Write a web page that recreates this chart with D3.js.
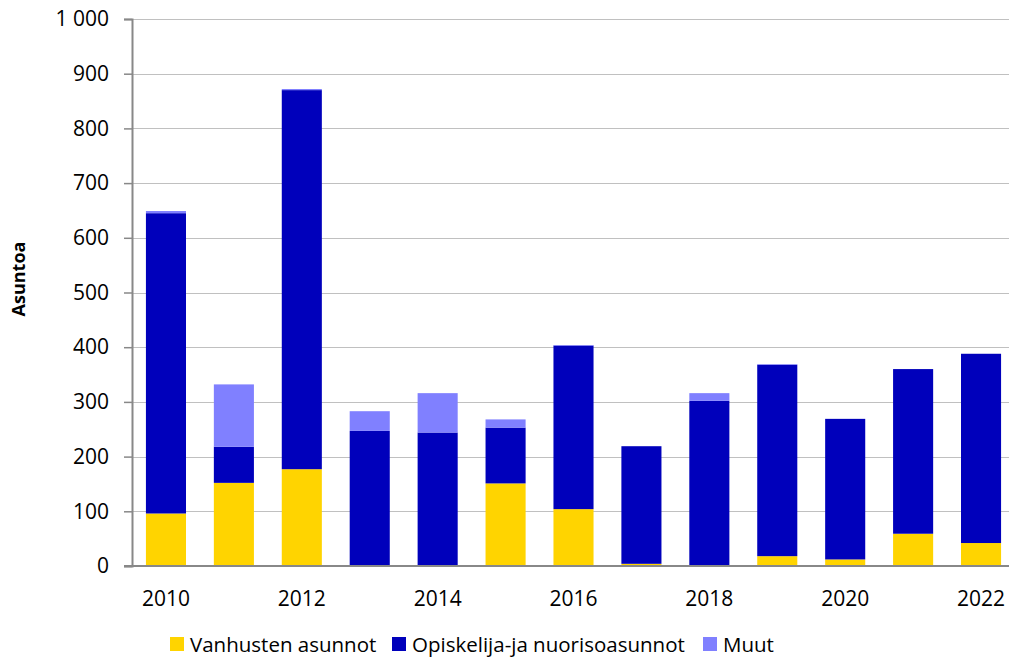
<!DOCTYPE html>
<html>
<head>
<meta charset="utf-8">
<script src="https://d3js.org/d3.v7.min.js"></script>
<style>
  body { margin: 0; background: #fff; }
  svg text { font-family: "Open Sans", "Noto Sans", sans-serif; fill: #000; }
</style>
</head>
<body>
<div id="chart"></div>
<script>
// data
var years = ["2010","2011","2012","2013","2014","2015","2016","2017","2018","2019","2020","2021","2022"];
var vanhusten = [96, 152, 177, 0, 0, 151, 104, 4, 1, 18, 12, 59, 42];
var opiskelija = [549, 66, 693, 247, 244, 102, 299, 215, 301, 350, 257, 301, 346];
var muut = [4, 114, 2, 36, 72, 15, 1, 0, 14, 1, 0, 0, 0];
var yTicks = [0, 100, 200, 300, 400, 500, 600, 700, 800, 900, 1000];
var xLabels = ["2010","2012","2014","2016","2018","2020","2022"];
var seriesNames = ["Vanhusten asunnot", "Opiskelija-ja nuorisoasunnot", "Muut"];
var colors = ["#FFD400", "#0000BB", "#8080FF"];

var W = 1009, H = 657;
var plotLeft = 132, plotTop = 19, plotBottom = 566, plotRight = 1015;

var svg = d3.select("#chart").append("svg")
  .attr("width", W).attr("height", H);

var x = d3.scaleBand().domain(years).range([plotLeft, plotRight]).paddingInner(0.41).paddingOuter(0.205);
var y = d3.scaleLinear().domain([0, 1000]).range([plotBottom, plotTop]);

// gridlines
svg.append("g").selectAll("line").data(yTicks.filter(function(d){ return d > 0; })).enter()
  .append("line")
    .attr("x1", plotLeft).attr("x2", W)
    .attr("y1", function(d){ return Math.round(y(d)) + 0.5; })
    .attr("y2", function(d){ return Math.round(y(d)) + 0.5; })
    .attr("stroke", "#c0c0c0").attr("stroke-width", 1.2);

// stacked bars
var table = years.map(function(yr, i){
  return { year: yr, a: vanhusten[i], b: opiskelija[i], c: muut[i] };
});
var stack = d3.stack().keys(["a","b","c"])(table);

svg.append("g").selectAll("g").data(stack).enter()
  .append("g").attr("fill", function(d, i){ return colors[i]; })
  .selectAll("rect").data(function(d){ return d; }).enter()
  .append("rect")
    .attr("x", function(d){ return x(d.data.year); })
    .attr("width", x.bandwidth())
    .attr("y", function(d){ return y(d[1]); })
    .attr("height", function(d){ return Math.max(0, y(d[0]) - y(d[1])); });

// y axis
var yAxis = svg.append("g")
  .attr("transform", "translate(" + plotLeft + ",0)")
  .call(d3.axisLeft(y).tickValues(yTicks).tickSize(8).tickPadding(15)
    .tickFormat(function(d){ return d === 1000 ? "1 000" : d; }));
yAxis.select(".domain").attr("stroke", "#888").attr("stroke-width", 2);
yAxis.selectAll(".tick line").attr("stroke", "#888").attr("stroke-width", 1.5);
yAxis.selectAll("text").style("font-size", "21px");

// x axis line
svg.append("line")
  .attr("x1", plotLeft - 8).attr("x2", W)
  .attr("y1", plotBottom).attr("y2", plotBottom)
  .attr("stroke", "#888").attr("stroke-width", 2);

// x labels
svg.append("g").selectAll("text").data(xLabels).enter()
  .append("text")
    .attr("x", function(d){ return x(d) + x.bandwidth() / 2; })
    .attr("y", 606)
    .attr("text-anchor", "middle")
    .style("font-size", "21px")
    .text(function(d){ return d; });

// y title
svg.append("text")
  .attr("transform", "translate(25,279) rotate(-90)")
  .attr("text-anchor", "middle")
  .style("font-size", "18px").style("font-weight", "bold")
  .text("Asuntoa");

// legend
var legendX = [170, 392, 703];
var lg = svg.append("g").selectAll("g").data(seriesNames).enter()
  .append("g").attr("transform", function(d, i){ return "translate(" + legendX[i] + ",637)"; });
lg.append("rect").attr("width", 14).attr("height", 14)
  .attr("fill", function(d, i){ return colors[i]; });
lg.append("text").attr("x", 20).attr("y", 14.5)
  .style("font-size", "20.5px")
  .text(function(d){ return d; });
</script>
</body>
</html>
